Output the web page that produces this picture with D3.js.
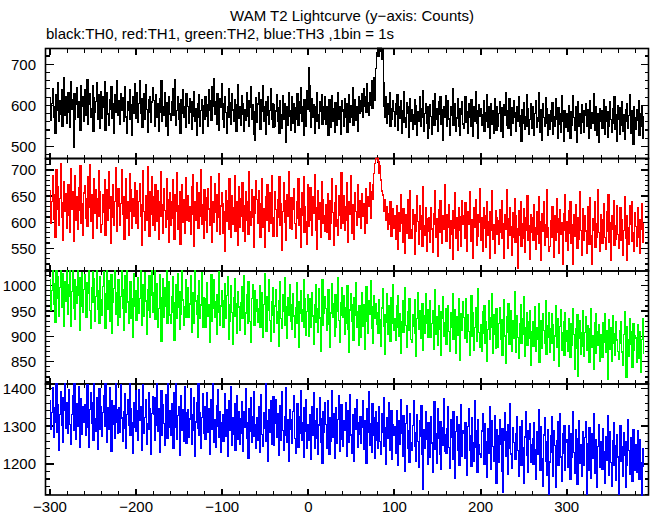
<!DOCTYPE html>
<html><head><meta charset="utf-8">
<script src="https://cdn.jsdelivr.net/npm/d3@7"></script>
<style>
body{margin:0;background:#fff}
svg{display:block}
text{font-family:"Liberation Sans",Arial,Helvetica,sans-serif;fill:#000}
</style>
</head><body>
<svg id="chart" width="652" height="515"></svg>
<script>
const titleText = "WAM T2 Lightcurve (y\u2212axis: Counts)";
const subtitleText = "black:TH0, red:TH1, green:TH2, blue:TH3 ,1bin = 1s";
const startTime = -300;   // time of first 1 s bin
const xTickLabels = [-300, -200, -100, 0, 100, 200, 300];

const th0 = [
618,563,604,641,572,597,533,626,588,655,560,611,579,637,548,602,667,575,620,556,
584,632,601,547,658,590,614,498,629,566,603,642,571,610,585,539,648,597,622,560,
639,575,611,663,554,602,628,570,591,647,536,618,583,609,656,567,625,594,545,634,
569,621,596,658,540,607,631,579,552,615,590,645,568,603,533,626,584,661,575,612,
606,553,628,587,619,561,594,645,572,533,610,589,638,566,601,527,620,580,653,569,
575,632,558,604,660,581,616,546,597,628,567,651,590,535,614,583,622,559,608,642,
611,548,594,625,570,603,538,617,584,659,561,598,575,630,549,606,587,528,621,579,
563,609,641,575,596,662,552,588,620,566,603,531,614,581,637,570,597,546,628,606,
598,556,617,582,541,609,574,633,560,592,527,605,571,626,548,587,614,532,599,566,
621,574,602,550,637,589,612,563,646,598,665,577,609,554,628,583,540,616,595,652,
567,604,546,622,583,531,598,640,571,607,554,629,589,562,615,576,538,601,650,568,
596,551,624,578,605,536,589,563,631,574,612,548,594,645,567,602,529,585,516,619,
558,603,632,570,541,614,585,649,562,596,530,609,575,621,553,588,640,566,603,547,
601,549,586,627,560,595,533,612,578,545,623,566,604,581,511,597,552,630,574,540,
588,620,557,603,534,594,567,628,551,609,580,642,560,597,526,615,573,549,636,590,
692,648,585,547,617,570,602,532,596,561,631,578,544,609,586,625,553,598,567,620,
555,598,570,526,613,581,547,624,562,591,535,607,574,552,630,566,598,530,585,611,
590,548,617,572,604,535,582,626,558,600,571,643,552,589,615,563,597,538,621,580,
612,585,628,570,640,598,620,583,652,607,576,631,601,660,592,645,668,612,690,728,
741,718,748,730,745,712,738,655,598,571,620,556,603,579,631,548,592,567,612,585,
549,603,577,625,540,596,568,612,531,588,559,634,571,547,606,580,523,598,617,561,
590,542,578,615,553,600,527,584,560,622,549,593,571,636,538,581,603,556,520,596,
545,601,573,530,612,587,551,629,566,593,538,608,579,621,554,590,514,597,571,624,
586,548,612,567,526,598,575,640,552,583,605,537,569,616,550,593,528,577,609,555,
543,590,622,559,584,531,603,570,548,615,581,525,596,562,633,557,588,520,601,574,
592,551,577,611,538,583,560,627,546,597,519,574,605,553,588,531,616,566,540,598,
548,580,609,537,594,561,523,602,575,631,552,588,545,617,568,527,595,556,612,571,
583,536,597,562,620,548,575,512,590,557,606,541,572,625,550,593,529,566,603,544,
596,554,528,581,612,547,569,632,560,535,589,515,603,571,548,619,557,591,526,578,
541,586,562,607,530,573,549,616,567,521,594,555,580,535,623,561,512,588,570,546,
580,538,599,563,519,585,552,624,571,540,596,509,566,610,548,581,531,602,559,588,
534,576,603,548,590,521,567,612,544,583,556,628,539,571,598,526,579,510,593,562,
588,545,571,615,530,597,560,522,584,548,609,566,535,592,557,620,541,578,513,600,
567,529,595,551,610,537,578,518,589,560,604,543,575,627,531,586,553,506,597,570,
541,589,563,612,527,580,549,598,521,574
];

const th1 = [
661,598,640,689,605,652,571,700,624,668,593,645,712,610,637,566,678,620,655,589,
614,671,633,580,702,625,659,563,641,690,603,648,586,667,622,709,597,636,574,656,
670,607,645,592,688,628,711,601,653,570,639,684,616,662,589,646,699,612,658,581,
596,652,619,681,574,637,662,603,697,626,559,648,610,672,594,639,704,582,630,665,
658,593,636,701,615,649,568,628,683,607,640,575,693,621,662,589,645,611,676,597,
605,661,588,639,674,612,556,633,698,620,584,651,603,706,627,572,659,615,688,594,
648,585,672,619,601,660,567,640,696,611,633,578,665,623,591,683,606,644,562,657,
593,640,681,607,567,652,620,695,586,631,658,557,614,672,600,643,579,686,625,603,
650,601,630,577,668,615,691,553,639,604,675,622,588,656,612,700,596,634,570,662,
603,647,580,665,625,594,688,611,562,639,600,674,618,583,652,609,693,576,631,657,
636,579,620,545,661,602,642,587,684,613,571,650,596,627,690,582,640,605,556,668,
590,645,612,676,583,631,563,659,604,640,577,697,620,593,662,609,551,648,616,680,
643,597,661,610,571,636,683,590,625,551,649,603,671,617,582,656,598,690,609,573,
600,658,624,572,644,610,687,593,636,546,621,675,599,641,565,653,612,696,588,630,
647,586,624,665,598,570,639,607,684,593,625,552,657,614,688,580,630,601,558,671,
592,638,667,603,575,649,617,692,584,628,548,661,606,637,571,678,598,643,612,583,
633,580,655,609,567,641,598,683,619,556,637,592,670,604,575,650,613,589,695,602,
598,651,585,629,676,603,562,640,615,689,579,633,606,568,657,620,594,672,610,641,
624,589,655,612,636,578,664,620,598,649,631,676,607,658,644,671,693,712,722,730,
727,716,693,708,681,660,652,638,621,644,603,630,586,617,595,640,572,611,626,588,
612,567,631,590,548,619,583,652,597,561,626,604,540,615,578,643,592,569,661,585,
570,624,596,539,615,583,650,601,558,632,587,612,553,669,593,574,628,545,607,582,
609,562,628,587,543,617,595,660,571,606,535,624,580,641,598,559,613,586,672,566,
564,615,591,633,550,603,577,529,622,589,657,570,608,546,627,585,611,553,641,596,
612,569,637,584,545,621,596,658,563,604,579,530,628,590,643,556,615,573,600,664,
566,608,545,627,589,613,552,639,574,601,531,620,585,660,568,596,540,623,577,609,
603,557,624,581,642,569,598,530,614,586,662,549,607,575,628,592,536,618,571,646,
561,612,587,511,623,575,640,553,598,570,626,542,609,584,651,565,593,528,615,580,
609,565,633,590,548,621,576,648,560,601,527,617,583,640,556,596,571,663,589,545,
554,602,571,630,588,533,613,565,645,580,606,541,624,576,599,520,617,585,653,563,
601,546,622,578,640,559,596,519,614,572,633,590,550,609,567,658,584,537,626,592,
565,613,583,541,629,596,557,647,574,520,606,585,639,552,598,571,662,580,544,615,
604,559,590,636,571,548,620,583,653,562,599,527,612,587,642,555,593,568,631,576,
550,598,627,566,605,537,584,649,570,612,527,589,557,631,596,640,563,580,545,618,
592,553,628,571,605,540,587,636,562,599
];

const th2 = [
1012,951,990,1040,963,1005,928,1031,975,1018,940,996,1050,958,1024,987,919,1008,969,1036,
944,1003,978,1029,920,989,1047,955,1011,934,998,965,1037,981,912,1016,959,1026,947,993,
1021,962,937,1006,985,1042,951,916,997,1028,968,1013,930,979,1049,954,990,926,1017,972,
941,998,1027,960,915,985,1038,953,1009,930,972,1021,906,968,995,1046,944,987,922,1012,
1001,938,979,1030,956,912,993,1019,947,1041,968,926,985,1008,935,975,898,1024,959,990,
932,989,1015,946,975,1037,921,962,1003,939,1026,970,904,993,951,1019,937,980,1045,948,
986,1029,934,968,1004,917,955,1021,945,890,977,1013,938,996,960,1034,926,971,1008,942,
925,979,1017,948,893,966,1002,935,1024,957,913,988,944,1030,972,921,959,1011,938,984,
996,937,964,1020,908,953,987,926,1033,970,944,899,981,1009,935,962,1025,917,976,948,
918,974,1006,940,962,889,995,1022,929,955,1011,937,969,904,983,948,1028,922,960,991,
971,917,953,1004,936,980,1018,895,962,929,1000,947,884,976,1013,940,965,906,989,958,
912,967,998,935,956,1019,903,946,982,925,1008,961,930,888,975,1002,943,921,990,950,
973,928,955,1001,917,945,986,898,963,1023,937,909,978,952,1011,931,890,968,996,941,
907,960,992,926,948,881,970,1008,935,915,983,950,1015,922,959,896,977,941,1002,929,
962,914,985,940,899,957,1006,925,968,878,946,991,930,953,1012,918,974,902,949,983,
901,948,975,917,986,940,885,962,1003,928,954,907,995,936,870,958,1011,921,945,978,
955,912,970,993,924,879,946,1004,938,965,901,982,918,950,1015,932,889,967,941,996,
938,980,904,957,926,1000,913,869,952,985,930,963,892,976,941,1006,917,948,883,961,
899,951,986,920,963,875,941,999,929,906,971,944,1010,915,958,887,980,936,965,924,
947,906,972,933,880,956,994,919,942,865,928,984,903,961,937,890,976,925,1003,911,
935,892,960,918,981,900,944,867,929,970,907,953,996,921,879,948,912,975,938,894,
889,943,920,972,906,861,935,987,914,950,896,929,965,873,940,905,984,926,952,899,
931,970,898,925,951,874,917,992,903,939,882,960,913,948,862,936,979,901,927,955,
884,932,961,909,870,947,918,985,895,928,953,866,938,902,974,921,853,944,912,968,
937,896,921,975,888,942,909,863,930,981,901,946,872,918,957,890,934,995,908,879,
923,871,948,905,960,887,929,851,913,970,895,937,918,984,866,942,903,876,955,920,
878,926,957,894,933,862,915,973,901,846,939,908,964,885,921,950,870,931,897,988,
916,869,941,898,857,925,962,887,934,904,979,860,918,947,883,929,896,951,842,910,
929,881,906,958,870,917,894,965,849,932,903,876,944,912,887,970,865,921,898,946,
868,915,944,886,923,852,901,960,878,934,895,841,919,953,872,908,930,863,947,890,
912,871,935,897,858,926,882,954,903,834,916,877,943,821,897,931,864,908,950,880,
861,907,939,873,922,892,848,915,955,879,901,835,928,866,944,910,883,924,851,896,
904,858,927,889,945,868,912,816,896,933,874,918,851,940,887,905,862,929,893,870,
855,912,886,930,869,843,903,948,877,819,920,893,861,935,884,909,838,926,872,901,
897,848,923,881,857,910,829,894,935,866
];

const th3 = [
1368,1290,1335,1402,1271,1349,1310,1425,1283,1357,1236,1330,1391,1302,1376,1258,1341,1418,1295,1362,
1281,1347,1396,1305,1252,1330,1381,1289,1420,1321,1264,1359,1300,1405,1243,1336,1372,1278,1350,1311,
1356,1275,1327,1409,1297,1244,1343,1388,1306,1361,1262,1418,1320,1285,1374,1239,1338,1399,1291,1352,
1272,1335,1380,1298,1417,1318,1256,1349,1290,1401,1327,1234,1366,1304,1355,1267,1412,1311,1280,1343,
1349,1283,1408,1321,1260,1337,1294,1385,1240,1331,1370,1301,1419,1276,1345,1310,1228,1362,1297,1393,
1286,1340,1263,1397,1315,1352,1237,1329,1410,1280,1322,1371,1251,1306,1389,1292,1345,1226,1333,1378,
1331,1262,1374,1301,1420,1287,1346,1230,1318,1393,1275,1356,1307,1249,1384,1325,1268,1411,1296,1340,
1276,1359,1312,1241,1388,1297,1413,1266,1327,1350,1223,1318,1381,1289,1342,1260,1405,1309,1255,1336,
1343,1270,1319,1398,1251,1330,1288,1376,1219,1311,1362,1294,1417,1275,1335,1242,1323,1386,1281,1350,
1264,1327,1389,1283,1345,1225,1306,1371,1292,1412,1258,1318,1244,1353,1299,1395,1271,1337,1230,1310,
1330,1259,1305,1386,1273,1342,1221,1313,1366,1289,1405,1248,1322,1277,1358,1236,1301,1380,1265,1339,
1252,1319,1365,1281,1234,1337,1296,1399,1268,1310,1214,1345,1287,1376,1258,1324,1391,1272,1305,1240,
1321,1263,1350,1230,1302,1384,1277,1247,1336,1295,1413,1260,1315,1208,1342,1283,1367,1251,1309,1378,
1249,1308,1371,1270,1333,1222,1295,1355,1261,1390,1289,1237,1326,1275,1402,1256,1317,1206,1344,1290,
1316,1255,1338,1379,1268,1229,1302,1360,1244,1325,1281,1394,1263,1310,1217,1348,1286,1370,1240,1304,
1262,1331,1297,1212,1352,1276,1388,1241,1315,1268,1345,1225,1303,1374,1257,1320,1201,1339,1284,1362,
1305,1240,1367,1283,1226,1322,1259,1393,1271,1334,1214,1297,1349,1255,1318,1380,1233,1290,1356,1264,
1247,1315,1288,1362,1219,1301,1340,1258,1383,1276,1228,1329,1266,1207,1345,1292,1371,1243,1310,1279,
1326,1255,1296,1368,1238,1314,1271,1202,1347,1283,1390,1249,1306,1230,1358,1275,1321,1214,1337,1262,
1241,1309,1352,1260,1224,1333,1284,1375,1246,1297,1198,1322,1268,1361,1235,1290,1340,1212,1303,1275,
1298,1229,1340,1272,1196,1315,1251,1369,1282,1220,1327,1263,1180,1306,1354,1241,1288,1205,1334,1256,
1235,1302,1366,1247,1283,1207,1329,1260,1192,1314,1273,1353,1226,1132,1291,1242,1338,1265,1199,1310,
1287,1218,1326,1255,1179,1301,1364,1238,1279,1201,1345,1267,1224,1312,1185,1296,1250,1372,1233,1276,
1229,1293,1352,1244,1188,1317,1270,1211,1339,1262,1161,1285,1325,1236,1303,1196,1268,1357,1220,1289,
1281,1214,1309,1262,1170,1298,1345,1236,1275,1193,1322,1255,1208,1366,1243,1287,1179,1316,1250,1226,
1218,1287,1332,1241,1199,1306,1259,1164,1294,1227,1351,1268,1185,1313,1246,1206,1327,1272,1150,1290,
1275,1204,1318,1251,1181,1292,1124,1262,1336,1219,1284,1172,1303,1241,1359,1226,1189,1297,1256,1213,
1211,1280,1325,1236,1166,1299,1257,1195,1314,1243,1148,1271,1338,1222,1288,1177,1265,1307,1203,1250,
1267,1198,1309,1239,1160,1285,1226,1344,1251,1183,1298,1214,1142,1276,1322,1207,1260,1171,1290,1121,
1205,1274,1326,1230,1167,1289,1249,1139,1262,1311,1196,1243,1334,1218,1155,1280,1227,1302,1184,1257,
1263,1191,1300,1244,1158,1279,1217,1337,1230,1176,1291,1209,1146,1268,1315,1201,1252,1168,1286,1224,
1196,1269,1312,1119,1253,1184,1296,1228,1162,1280,1215,1333,1241,1175,1265,1137,1246,1304,1192,1259,
1257,1186,1293,1232,1149,1271,1210,1327,1242,1169,1284,1203,1141,1262,1309,1195,1248,1157,1276,1218,
1121,1263,1301,1207,1245,1166,1282,1222,1139,1258,1195,1318,1236,1172,1269,1208,1153,1290,1230,1183,
1250,1179,1287,1226,1158,1264,1203,1118,1241,1191
];

const seriesValues = [th0, th1, th2, th3];
const seriesColors = ["#000000", "#ff0000", "#00ff00", "#0000ff"];
const yDomains = [[471, 738], [506.5, 722], [806, 1029], [1118, 1411]];
const yMajorTicks = [[500, 600, 700], [550, 600, 650, 700], [850, 900, 950, 1000], [1200, 1300, 1400]];
const yMinorStep = [20, 10, 10, 20];

// ---------------- layout ----------------
const svg = d3.select("#chart");
const L = 45.5, R = 648.5;
const panelTops = [48.5, 158.5, 271, 384];
const panelBottoms = [158.5, 271, 384, 495];

const x = d3.scaleLinear().domain([-305.2, 395]).range([L, R]);
const xMinor = d3.range(-300, 395, 20);

svg.append("text").attr("x", 352).attr("y", 21).attr("text-anchor", "middle")
  .attr("font-size", 15).text(titleText);
svg.append("text").attr("x", 46).attr("y", 39).attr("font-size", 15).text(subtitleText);

seriesValues.forEach((vals, k) => {
  const top = panelTops[k], bot = panelBottoms[k];
  const y = d3.scaleLinear().domain(yDomains[k]).range([bot, top]);
  const g = svg.append("g");

  g.append("rect").attr("x", L).attr("y", top).attr("width", R - L).attr("height", bot - top)
    .attr("fill", "none").attr("stroke", "#000").attr("stroke-width", 1.6);

  xMinor.forEach(t => {
    const major = t % 100 === 0;
    const len = major ? 6 : 4;
    const xp = x(t);
    [[bot, bot - len], [top, top + len]].forEach(([a, b]) => {
      g.append("line").attr("x1", xp).attr("x2", xp).attr("y1", a).attr("y2", b)
        .attr("stroke", "#000").attr("stroke-width", major ? 2 : 1).attr("shape-rendering", "crispEdges");
    });
  });

  const step = yMinorStep[k];
  const yt = d3.range(Math.ceil(yDomains[k][0] / step) * step, yDomains[k][1] + 0.001, step);
  yt.forEach(v => {
    const major = yMajorTicks[k].includes(v);
    const len = major ? 8 : 4;
    const yp = y(v);
    g.append("line").attr("x1", L).attr("x2", L + len).attr("y1", yp).attr("y2", yp)
      .attr("stroke", "#000").attr("stroke-width", 1.2).attr("shape-rendering", "crispEdges");
    g.append("line").attr("x1", R).attr("x2", R - len).attr("y1", yp).attr("y2", yp)
      .attr("stroke", "#000").attr("stroke-width", 1.2).attr("shape-rendering", "crispEdges");
  });
  yMajorTicks[k].forEach(v => {
    g.append("text").attr("x", 36).attr("y", y(v) + 5.5).attr("text-anchor", "end")
      .attr("font-size", 15).text(v);
  });

  const cid = "clip" + k;
  svg.append("clipPath").attr("id", cid).append("rect")
    .attr("x", L).attr("y", top - 1).attr("width", R - L).attr("height", bot - top + 2);
  const line = d3.line()
    .x((d, i) => x(startTime + i))
    .y(d => y(d))
    .curve(d3.curveStepAfter);
  svg.append("path").attr("d", line(vals)).attr("clip-path", `url(#${cid})`)
    .attr("fill", "none").attr("stroke", seriesColors[k]).attr("stroke-width", 1.3)
    .attr("shape-rendering", "crispEdges");
});

xTickLabels.forEach(t => {
  svg.append("text").attr("x", x(t)).attr("y", 512).attr("text-anchor", "middle")
    .attr("font-size", 15).text(t < 0 ? "\u2212" + Math.abs(t) : String(t));
});
</script>
</body></html>
